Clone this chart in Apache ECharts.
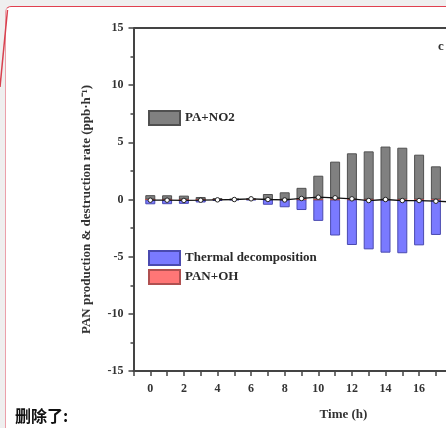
<!DOCTYPE html>
<html>
<head>
<meta charset="utf-8">
<script src="https://cdn.jsdelivr.net/npm/echarts@6/dist/echarts.min.js"></script>
<style>
  html, body { margin: 0; padding: 0; width: 446px; height: 428px; overflow: hidden; background: #efefef; }
  #panel { position: absolute; left: 5px; top: 6px; width: 700px; height: 600px; background: #fff;
           border-top: 1.5px solid #e0404f; border-left: 1.5px solid #eba0aa; border-top-left-radius: 6px; }
  #conn { position: absolute; left: 0; top: 0; }
  #chart { position: absolute; left: 0; top: 0; width: 600px; height: 428px; }
  #note { position: absolute; left: 15px; top: 403px; font-family: "Noto Sans CJK SC"; font-weight: bold; font-size: 16px; color: #111; }
</style>
</head>
<body>
<div id="panel"></div>
<svg id="conn" width="20" height="100"><line x1="7.5" y1="10" x2="0" y2="87" stroke="#d8404e" stroke-width="1.5"/></svg>
<div id="chart"></div>
<div id="note">删除了:</div>
<script>
// Data (hour of day)
const hours   = [0, 1, 2, 3, 4, 5, 6, 7, 8, 9, 10, 11, 12, 13, 14, 15, 16, 17, 18];
const paNO2   = [0.38, 0.37, 0.34, 0.22, 0.12, 0.06, 0.1, 0.48, 0.63, 1.02, 2.08, 3.31, 4.04, 4.21, 4.63, 4.53, 3.92, 2.9, 1.8];
const thermal = [-0.42, -0.41, -0.38, -0.26, -0.13, -0.05, -0.06, -0.46, -0.68, -0.92, -1.87, -3.15, -3.98, -4.36, -4.65, -4.7, -4.01, -3.1, -2.0];
const panOH   = [0, 0, 0, 0, 0, 0, 0, 0, -0.01, -0.01, -0.02, -0.02, -0.02, -0.02, -0.02, -0.02, -0.01, -0.01, 0];
const net     = [-0.06, -0.06, -0.08, -0.06, -0.03, 0, 0.06, 0, -0.04, 0.09, 0.2, 0.15, 0.06, -0.09, 0, -0.09, -0.09, -0.15, -0.22];
const yTicks  = { min: -15, max: 15, interval: 5 };
const xRange  = { min: -1, max: 24 };

const pair = arr => hours.map((h, i) => [h, arr[i]]);
const serif = '"Liberation Serif", "Times New Roman", serif';
const axisColor = '#444';

const chart = echarts.init(document.getElementById('chart'), null, { renderer: 'canvas' });
chart.setOption({
  backgroundColor: 'transparent',
  animation: false,
  grid: { left: 133.5, top: 28, width: 420, bottom: 57, containLabel: false },
  legend: [
    { data: ['PA+NO2'], left: 143, top: 105, itemWidth: 31, itemHeight: 14, itemGap: 3, icon: 'rect',
      textStyle: { fontFamily: serif, fontSize: 13, fontWeight: 'bold', color: '#2a2a2a' } },
    { data: ['Thermal decomposition', 'PAN+OH'], orient: 'vertical', left: 143, top: 245, icon: 'rect',
      itemWidth: 31, itemHeight: 14, itemGap: 3,
      textStyle: { fontFamily: serif, fontSize: 13, fontWeight: 'bold', color: '#2a2a2a' } }
  ],
  xAxis: {
    type: 'value', min: xRange.min, max: xRange.max, interval: 1,
    name: 'Time (h)', nameLocation: 'middle', nameGap: 37,
    nameTextStyle: { fontFamily: serif, fontSize: 13, fontWeight: 'bold', color: '#333' },
    axisLine: { show: true, onZero: false, lineStyle: { color: axisColor, width: 2 } },
    axisTick: { show: true, length: 5, lineStyle: { color: axisColor, width: 1.5 } },
    axisLabel: { fontFamily: serif, fontSize: 12, fontWeight: 'bold', color: '#333', margin: 12,
      formatter: v => (v >= 0 && v % 2 === 0) ? String(v) : '' },
    splitLine: { show: false }
  },
  yAxis: {
    type: 'value', min: yTicks.min, max: yTicks.max, interval: yTicks.interval,
    name: 'PAN production & destruction rate (ppb·h⁻¹)', nameLocation: 'middle', nameGap: 40,
    nameTextStyle: { fontFamily: serif, fontSize: 13, fontWeight: 'bold', color: '#333', padding: [0, 20, 0, 0] },
    axisLine: { show: true, onZero: false, lineStyle: { color: axisColor, width: 2 } },
    axisTick: { show: true, length: 5, lineStyle: { color: axisColor, width: 1.5 } },
    minorTick: { show: true, splitNumber: 2, length: 3, lineStyle: { color: axisColor, width: 1.5 } },
    axisLabel: { fontFamily: serif, fontSize: 12, fontWeight: 'bold', color: '#333', margin: 10 },
    splitLine: { show: false }
  },
  graphic: [
    { type: 'line', shape: { x1: 133.5, y1: 28, x2: 600, y2: 28 }, style: { stroke: axisColor, lineWidth: 2 } },
    { type: 'text', left: 438, top: 40, style: { text: 'c', font: 'bold 13px ' + serif, fill: '#333' } }
  ],
  series: [
    { name: 'PA+NO2', type: 'bar', stack: 'r', barWidth: 10, data: pair(paNO2),
      itemStyle: { color: '#808080', borderColor: '#505050', borderWidth: 1 } },
    { name: 'Thermal decomposition', type: 'bar', stack: 'r', barWidth: 10, data: pair(thermal),
      itemStyle: { color: '#7a7aff', borderColor: '#4a4ab0', borderWidth: 1 } },
    { name: 'PAN+OH', type: 'bar', stack: 'r', barWidth: 10, data: pair(panOH),
      itemStyle: { color: '#ff7676', borderColor: '#b05050', borderWidth: 1 } },
    { name: 'Net', type: 'line', data: pair(net), symbol: 'circle', symbolSize: 4.5, z: 5,
      lineStyle: { color: '#111', width: 1.3 },
      itemStyle: { color: '#fff', borderColor: '#222', borderWidth: 1 } }
  ]
});
</script>
</body>
</html>
